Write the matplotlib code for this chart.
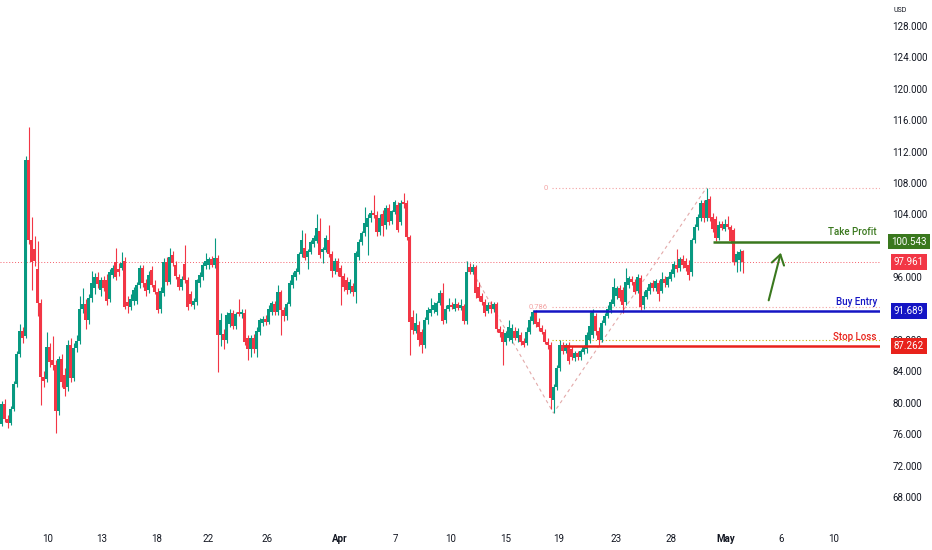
import numpy as np
import matplotlib
matplotlib.use("Agg")
import matplotlib.pyplot as plt
import matplotlib.transforms as mtrans

plt.rcParams['font.family'] = ['Roboto', 'DejaVu Sans']

# candle data, one candle per slot
opens = [77.3, 79.8, 77.9, 77.4, 79.2, 82.4, 86.2, 89.1, 88.5, 110.9,
         100.7, 99.6, 97.0, 92.7, 83.3, 83.0, 87.1, 85.4, 84.8, 79.0,
         85.6, 83.6, 82.0, 87.4, 83.1, 87.0, 87.9, 92.0, 92.6, 90.5,
         93.3, 94.6, 96.0, 94.4, 95.6, 95.6, 93.2, 96.3, 97.9, 97.1,
         97.2, 98.0, 92.9, 92.2, 93.0, 93.0, 95.0, 97.2, 95.2, 94.4,
         96.9, 95.0, 94.1, 91.9, 94.0, 97.9, 95.4, 98.8, 97.6, 96.0,
         94.7, 97.7, 95.6, 93.8, 92.4, 92.8, 95.2, 96.0, 97.4, 97.5,
         98.3, 97.6, 98.4, 88.6, 88.8, 88.0, 90.0, 91.4, 89.8, 91.6,
         91.3, 91.4, 88.2, 86.8, 88.2, 86.8, 89.0, 90.2, 90.7, 90.3,
         91.6, 92.6, 91.6, 94.1, 91.8, 91.0, 92.6, 95.0, 96.0, 96.7,
         99.0, 99.7, 98.6, 99.2, 100.2, 100.6, 101.9, 99.2, 99.5, 100.8,
         99.0, 96.8, 98.0, 97.2, 96.1, 95.6, 94.4, 94.9, 94.1, 98.6,
         100.5, 101.6, 102.4, 103.5, 104.2, 103.9, 101.8, 104.0, 102.6, 104.8,
         103.2, 104.3, 105.2, 103.0, 105.6, 105.5, 101.1, 90.9, 89.2, 89.9,
         89.0, 87.4, 90.5, 91.4, 91.8, 91.6, 92.7, 94.0, 90.6, 92.0,
         92.4, 92.0, 92.6, 92.1, 92.3, 90.4, 97.3, 96.7, 97.3, 94.8,
         93.6, 92.8, 91.7, 92.4, 92.0, 92.6, 89.4, 89.0, 87.7, 88.2,
         88.0, 89.2, 88.3, 88.6, 87.9, 87.6, 89.0, 90.4, 91.6, 90.3,
         89.5, 89.0, 87.8, 87.4, 80.4, 82.0, 84.4, 87.4, 86.6, 87.4,
         86.8, 85.7, 86.3, 85.8, 86.5, 86.8, 88.0, 88.6, 91.0, 89.2,
         88.0, 90.2, 91.1, 91.8, 92.6, 93.6, 94.6, 94.4, 92.8, 95.0,
         95.8, 95.4, 94.3, 95.9, 92.4, 93.5, 94.2, 95.2, 94.6, 95.2,
         94.2, 95.8, 95.0, 95.8, 96.4, 97.6, 97.2, 98.3, 98.0, 97.6,
         96.6, 100.7, 102.4, 103.6, 105.4, 103.6, 105.9, 103.7, 103.4, 101.0,
         102.8, 102.2, 102.8, 102.4, 102.0, 97.9, 98.2, 99.3]
highs = [80.2, 80.5, 78.4, 79.6, 82.8, 86.6, 90.1, 89.6, 111.5, 115.1,
         103.7, 101.2, 100.6, 93.2, 84.0, 89.0, 87.6, 88.5, 85.4, 86.0,
         86.2, 84.4, 88.0, 88.3, 87.6, 88.6, 93.6, 94.6, 93.2, 93.8,
         96.8, 96.5, 96.6, 96.0, 96.2, 96.4, 97.0, 97.6, 99.7, 97.8,
         99.2, 98.6, 93.6, 93.8, 94.8, 95.4, 97.6, 97.5, 95.8, 96.8,
         97.4, 95.6, 94.6, 94.8, 98.4, 98.6, 99.7, 99.4, 98.0, 96.4,
         96.2, 100.1, 96.0, 94.3, 93.4, 95.8, 96.6, 97.9, 99.1, 98.6,
         98.7, 101.0, 98.8, 91.4, 89.4, 91.6, 92.0, 91.8, 91.6, 93.2,
         92.0, 92.0, 88.6, 88.6, 88.7, 89.6, 90.8, 91.0, 91.2, 92.4,
         93.0, 93.0, 95.0, 94.4, 92.2, 92.8, 95.6, 96.6, 97.2, 99.2,
         102.0, 101.6, 99.6, 100.8, 101.4, 104.0, 103.5, 99.9, 101.4, 102.6,
         99.4, 98.4, 98.4, 97.6, 96.5, 96.0, 95.8, 95.3, 99.4, 100.9,
         101.9, 105.0, 104.0, 104.6, 106.5, 104.4, 104.0, 104.6, 105.2, 105.3,
         104.6, 105.8, 105.6, 105.8, 106.7, 105.8, 101.4, 91.8, 91.5, 90.4,
         89.4, 90.9, 92.2, 93.4, 92.8, 93.0, 94.4, 95.3, 92.4, 93.3,
         92.8, 93.3, 92.9, 93.2, 92.6, 98.0, 97.8, 97.7, 97.6, 95.4,
         94.0, 93.2, 92.9, 93.0, 92.9, 92.8, 89.8, 89.4, 89.2, 90.6,
         90.0, 89.6, 89.5, 89.0, 88.2, 89.6, 91.0, 91.8, 91.8, 90.8,
         89.9, 89.4, 88.2, 87.8, 82.4, 84.8, 88.0, 87.8, 87.6, 87.8,
         87.2, 86.6, 86.6, 86.8, 87.4, 89.0, 91.6, 92.0, 91.4, 89.6,
         90.6, 91.4, 92.4, 93.2, 95.9, 94.9, 95.0, 94.8, 97.2, 96.2,
         96.2, 95.8, 96.4, 96.3, 94.2, 94.8, 95.4, 95.6, 95.8, 95.6,
         96.6, 96.1, 96.2, 97.0, 98.0, 99.6, 98.6, 98.8, 98.4, 98.2,
         101.0, 102.8, 104.0, 105.8, 105.8, 107.4, 106.4, 104.2, 103.8, 103.2,
         103.2, 103.4, 103.8, 102.7, 102.3, 99.4, 99.6, 99.5]
lows = [77.0, 77.6, 76.8, 77.2, 78.9, 82.0, 85.8, 87.6, 88.2, 100.2,
        94.4, 97.4, 91.0, 79.7, 82.0, 82.6, 84.6, 84.2, 76.2, 78.4,
        82.0, 80.9, 81.5, 82.6, 82.8, 86.5, 87.5, 91.4, 89.4, 90.0,
        92.8, 93.8, 94.6, 93.6, 94.2, 92.4, 92.9, 95.9, 95.6, 96.2,
        96.9, 91.9, 91.5, 91.8, 92.4, 92.6, 94.6, 94.8, 93.6, 94.0,
        94.8, 93.8, 91.5, 91.4, 93.6, 95.0, 95.1, 97.4, 95.8, 94.4,
        94.4, 95.3, 91.8, 92.3, 91.9, 92.4, 94.8, 95.6, 97.0, 97.1,
        97.3, 97.2, 83.9, 87.2, 86.8, 87.6, 89.6, 89.4, 89.4, 91.0,
        90.8, 87.4, 85.5, 85.8, 86.3, 85.8, 88.6, 89.8, 89.9, 90.0,
        91.2, 91.2, 91.2, 88.6, 90.4, 90.6, 92.3, 94.6, 95.6, 96.4,
        98.6, 98.2, 97.0, 98.9, 99.8, 100.3, 98.5, 97.8, 99.2, 98.6,
        96.0, 96.4, 96.2, 92.5, 94.2, 93.8, 94.0, 93.6, 92.7, 98.2,
        100.1, 101.2, 98.8, 103.0, 103.6, 101.2, 101.4, 101.2, 102.2, 102.6,
        102.8, 104.0, 101.8, 102.6, 104.8, 100.8, 86.1, 88.8, 88.9, 87.2,
        86.3, 87.0, 90.1, 91.1, 91.4, 91.2, 92.4, 90.0, 90.2, 91.7,
        91.9, 91.7, 91.8, 91.8, 90.0, 90.0, 96.4, 96.4, 93.4, 93.0,
        92.4, 91.0, 91.4, 91.5, 91.6, 89.0, 88.4, 84.8, 87.4, 87.9,
        87.6, 88.0, 87.8, 87.3, 87.1, 87.3, 88.7, 90.0, 89.6, 89.2,
        88.7, 87.5, 86.8, 79.2, 78.7, 81.6, 84.0, 86.2, 86.3, 85.0,
        85.4, 85.3, 85.4, 85.5, 86.2, 86.4, 87.6, 88.3, 88.6, 87.4,
        87.8, 89.9, 90.8, 91.5, 92.3, 93.2, 93.0, 91.4, 92.5, 94.6,
        95.0, 93.8, 94.0, 91.8, 92.0, 93.2, 93.9, 94.3, 94.3, 93.0,
        94.0, 94.8, 94.7, 95.5, 96.0, 96.6, 96.8, 97.2, 96.8, 95.6,
        96.2, 100.4, 102.0, 103.2, 103.0, 103.2, 103.2, 101.8, 100.6, 100.7,
        102.0, 101.9, 102.2, 100.3, 97.6, 96.7, 96.8, 96.5]
closes = [79.8, 77.9, 77.4, 79.2, 82.4, 86.2, 89.1, 88.3, 110.9, 100.7,
          97.9, 98.0, 92.7, 83.3, 82.8, 87.1, 85.2, 84.8, 79.0, 85.6,
          82.6, 81.7, 87.4, 83.1, 87.0, 87.9, 92.0, 92.6, 90.6, 93.3,
          95.3, 96.0, 95.1, 95.6, 94.6, 93.0, 96.6, 97.2, 96.0, 96.7,
          97.8, 92.2, 92.3, 93.2, 94.4, 95.0, 97.2, 95.2, 94.2, 96.3,
          95.0, 94.1, 91.8, 94.2, 97.9, 95.4, 98.6, 97.8, 96.1, 94.7,
          95.8, 95.6, 92.2, 92.6, 93.0, 95.6, 96.3, 97.6, 98.0, 98.3,
          97.6, 98.4, 88.6, 90.6, 88.0, 91.2, 91.4, 89.8, 91.3, 91.3,
          91.6, 87.7, 86.8, 88.2, 86.8, 89.2, 90.5, 90.7, 90.3, 91.9,
          92.7, 91.6, 94.1, 91.8, 91.0, 92.6, 95.3, 96.3, 96.8, 98.9,
          100.7, 98.4, 99.3, 100.5, 101.0, 102.3, 98.8, 99.6, 101.0, 99.0,
          96.8, 98.0, 96.6, 96.0, 94.8, 94.4, 95.4, 94.1, 99.1, 100.5,
          101.6, 102.9, 103.5, 104.2, 103.9, 101.7, 103.6, 102.5, 104.8, 103.0,
          104.4, 105.6, 102.0, 105.4, 105.3, 101.1, 90.3, 89.3, 90.2, 88.0,
          87.4, 90.6, 91.8, 91.9, 92.5, 92.7, 94.0, 90.4, 92.0, 92.5,
          92.2, 92.6, 92.1, 92.5, 90.4, 96.7, 96.7, 97.3, 94.0, 93.4,
          92.8, 91.5, 92.5, 91.9, 92.6, 89.4, 88.9, 87.7, 88.9, 89.6,
          89.5, 88.3, 89.1, 87.8, 87.4, 89.0, 90.6, 91.6, 90.0, 89.6,
          89.0, 87.8, 87.3, 80.6, 82.0, 84.4, 87.4, 86.6, 87.3, 85.3,
          85.8, 86.3, 85.8, 86.6, 87.2, 88.6, 89.8, 91.6, 89.2, 88.0,
          90.2, 91.1, 92.0, 92.9, 94.8, 94.6, 93.4, 92.4, 95.4, 95.9,
          95.4, 94.1, 96.0, 92.2, 93.6, 94.4, 95.1, 94.6, 95.5, 93.9,
          95.8, 95.2, 96.0, 96.7, 97.7, 97.0, 98.3, 97.6, 97.2, 96.3,
          100.7, 102.4, 103.7, 105.4, 103.6, 105.8, 103.6, 102.2, 101.0, 102.6,
          102.3, 102.8, 102.4, 100.6, 97.9, 98.9, 99.2, 97.961]

date_labels = ['10', '13', '18', '22', '26', 'Apr', '7', '10', '15', '19', '23', '28', 'May', '6', '10']
date_slots = [15.2, 33.5, 51.8, 68.8, 88.5, 112.8, 131.2, 149.8, 168.2, 185.8, 204.8, 223.2, 241.5, 259.8, 277.2]
price_ticks = [68, 72, 76, 80, 84, 88, 92, 96, 100, 104, 108, 112, 116, 120, 124, 128]
hidden_ticks = [92, 100]  # covered by the price boxes in the picture

# trade levels
take_profit = 100.543
buy_entry = 91.689
stop_loss = 87.262
last_price = 97.961
# fib retracement (0 at the top, 1 at the bottom)
fib_top = 107.36
fib_bottom = 88.06
fib_levels = [0, 0.786, 1]
swing_slots = [155, 184, 235]

GREEN = '#089981'
RED = '#f23645'
TP_GREEN = '#3a781e'
BLUE = '#1515c4'
SL_RED = '#e8221b'
FIB_PINK = '#f3a3a3'
TXT = '#131722'

fig = plt.figure(figsize=(9.32, 5.5), dpi=100)
ax = fig.add_axes([0, 30 / 550, 880 / 932, 520 / 550])
ax.set_xlim(-0.5, 292.83)
ax.set_ylim(65.07, 131.31)

o = np.array(opens)
h = np.array(highs)
l = np.array(lows)
c = np.array(closes)
x = np.arange(len(o))
col = np.where(c >= o, GREEN, RED)

ax.vlines(x, l, h, colors=col, linewidth=0.8, zorder=2)
body = np.maximum(np.abs(c - o), 0.12)
ax.bar(x, body, bottom=np.minimum(o, c), width=0.68, color=col, linewidth=0, zorder=3)

# last price dotted line
ax.axhline(last_price, color=RED, linestyle=(0, (1, 2)), linewidth=0.7, alpha=0.8, zorder=1)

# swing lines (dashed)
sw_y = [h[swing_slots[0]], l[swing_slots[1]], h[swing_slots[2]]]
ax.plot(swing_slots, sw_y, color='#e3a9a9', linestyle=(0, (3, 3)), linewidth=0.8, zorder=1)

# fib levels
xr = ax.get_xlim()[1]
for lv in fib_levels:
    yv = fib_top - lv * (fib_top - fib_bottom)
    colr = '#c9b400' if lv == 1 else FIB_PINK
    ax.hlines(yv, swing_slots[1] - 0.5, xr, colors=colr, linestyles=(0, (1, 2)), linewidth=0.8, zorder=1)
    if lv != 1:
        ax.text(swing_slots[1] - 1.8, yv, f'{lv:g}', color=FIB_PINK, fontsize=5.5, ha='right', va='center')

# trade lines
ax.hlines(take_profit, 237.2, xr, colors=TP_GREEN, linewidth=1.8, zorder=4)
ax.hlines(buy_entry, 177.2, xr, colors=BLUE, linewidth=1.8, zorder=4)
ax.hlines(stop_loss, 187.2, xr, colors=SL_RED, linewidth=1.8, zorder=4)

ax.annotate('Take Profit', (291.8, take_profit), xytext=(0, 3), textcoords='offset points',
            ha='right', va='bottom', color=TP_GREEN, fontsize=7, fontweight='medium')
ax.annotate('Buy Entry', (291.8, buy_entry), xytext=(0, 3), textcoords='offset points',
            ha='right', va='bottom', color=BLUE, fontsize=7, fontweight='medium')
ax.annotate('Stop Loss', (291.8, stop_loss), xytext=(0, 3), textcoords='offset points',
            ha='right', va='bottom', color=SL_RED, fontsize=7, fontweight='medium')

# arrow pointing at the target
ax.annotate('', xy=(260.0, 99.46), xytext=(255.5, 92.71),
            arrowprops=dict(arrowstyle='->,head_length=0.7,head_width=0.45', color=TP_GREEN, lw=1.5))

# price axis on the right
ax.yaxis.tick_right()
ax.set_yticks(price_ticks)
ax.set_yticklabels(['' if v in hidden_ticks else f'{v:.3f}' for v in price_ticks])
ax.tick_params(axis='y', length=0, pad=9, labelsize=7, labelcolor=TXT)
ax.set_xticks(date_slots)
ax.set_xticklabels(date_labels)
ax.tick_params(axis='x', length=0, pad=10, labelsize=7, labelcolor=TXT)
for t in ax.get_xticklabels():
    if t.get_text() in ('Apr', 'May'):
        t.set_fontweight('bold')
for s in ax.spines.values():
    s.set_visible(False)

# price boxes on the axis
tr = mtrans.blended_transform_factory(ax.transAxes, ax.transData)
bx = 1 + 29 / 880
for val, bg in [(take_profit, TP_GREEN), (last_price, RED), (buy_entry, BLUE), (stop_loss, SL_RED)]:
    ax.text(bx, val, f'{val:.3f}', transform=tr, ha='center', va='center', color='white',
            fontsize=7, clip_on=False, zorder=10,
            bbox=dict(boxstyle='square,pad=0.3', facecolor=bg, edgecolor='none'))

fig.text(893 / 932, 1 - 10 / 550, 'USD', fontsize=5, color=TXT, ha='left', va='center')

fig.savefig('out.png', dpi=100)
